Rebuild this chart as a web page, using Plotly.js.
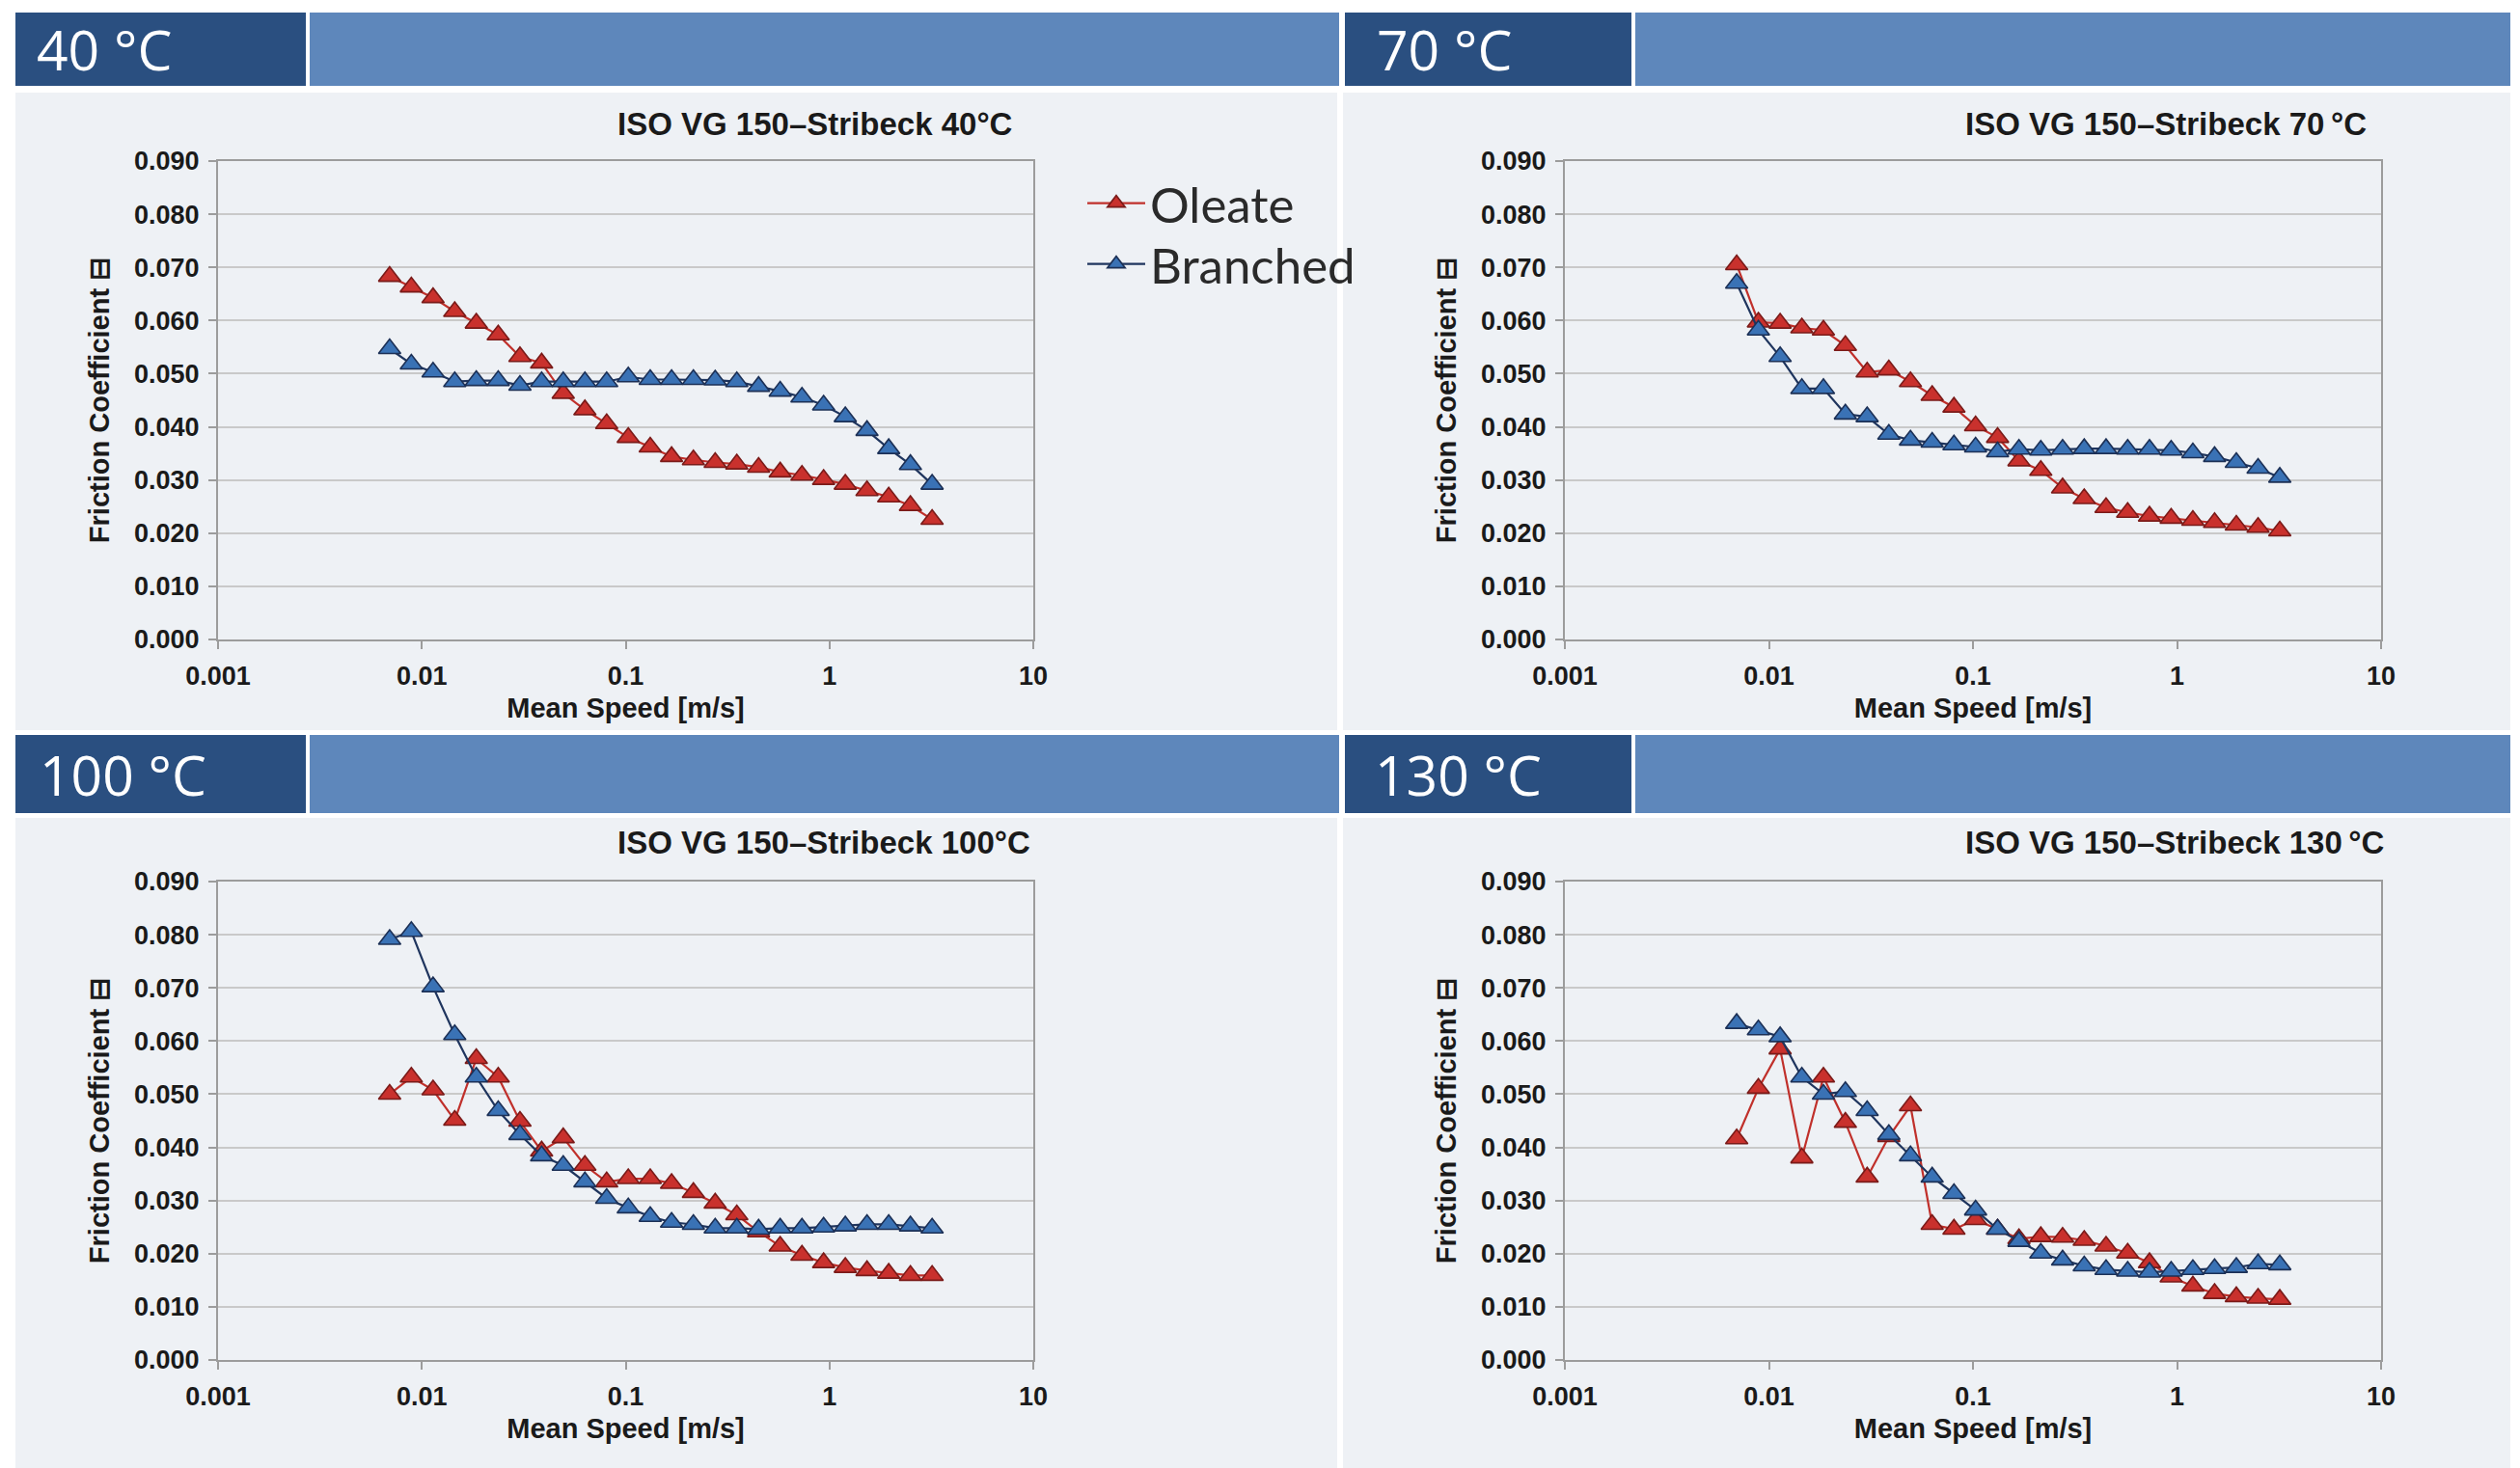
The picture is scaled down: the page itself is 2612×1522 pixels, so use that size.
<!DOCTYPE html>
<html>
<head>
<meta charset="utf-8">
<script src="https://cdn.plot.ly/plotly-3.0.1.min.js"></script>
<style>
html,body{margin:0;padding:0;background:#ffffff;}
#chart{width:2612px;height:1522px;}
</style>
</head>
<body>
<div id="chart"></div>
<script>
// ---------------- data ----------------
const speed = [0.00695, 0.00888, 0.01135, 0.0145, 0.0185, 0.0237, 0.0303, 0.0387, 0.0494, 0.0631, 0.0807, 0.103, 0.132, 0.168, 0.215, 0.275, 0.351, 0.449, 0.573, 0.733, 0.936, 1.196, 1.528, 1.953, 2.496, 3.189];

const oleate40   = [0.0683,0.0663,0.0643,0.0617,0.0595,0.0573,0.0532,0.0520,0.0463,0.0432,0.0406,0.0380,0.0362,0.0344,0.0338,0.0333,0.0330,0.0324,0.0315,0.0309,0.0301,0.0292,0.0280,0.0268,0.0252,0.0226];
const branched40 = [0.0547,0.0518,0.0503,0.0485,0.0487,0.0487,0.0478,0.0485,0.0485,0.0485,0.0485,0.0494,0.0489,0.0489,0.0489,0.0488,0.0485,0.0476,0.0467,0.0456,0.0441,0.0419,0.0393,0.0359,0.0329,0.0292];

const oleate70   = [0.0705,0.0597,0.0595,0.0586,0.0582,0.0553,0.0503,0.0507,0.0485,0.0459,0.0437,0.0402,0.0380,0.0336,0.0318,0.0285,0.0265,0.0248,0.0239,0.0232,0.0228,0.0224,0.0220,0.0215,0.0211,0.0204];
const branched70 = [0.0670,0.0582,0.0532,0.0472,0.0472,0.0424,0.0419,0.0386,0.0375,0.0371,0.0366,0.0362,0.0353,0.0358,0.0356,0.0358,0.0359,0.0359,0.0358,0.0358,0.0356,0.0351,0.0344,0.0333,0.0322,0.0305];

const oleate100   = [0.0500,0.0532,0.0508,0.0451,0.0567,0.0532,0.0449,0.0393,0.0418,0.0366,0.0335,0.0341,0.0341,0.0332,0.0315,0.0295,0.0273,0.0241,0.0214,0.0197,0.0183,0.0174,0.0168,0.0163,0.0159,0.0159];
const branched100 = [0.0791,0.0806,0.0702,0.0612,0.0532,0.0469,0.0424,0.0384,0.0366,0.0335,0.0304,0.0286,0.0270,0.0259,0.0255,0.0248,0.0248,0.0246,0.0248,0.0248,0.0250,0.0252,0.0255,0.0255,0.0252,0.0248];

const oleate130   = [0.0416,0.0511,0.0585,0.0380,0.0532,0.0447,0.0344,0.0420,0.0478,0.0255,0.0246,0.0264,0.0246,0.0228,0.0232,0.0231,0.0225,0.0214,0.0201,0.0183,0.0156,0.0139,0.0125,0.0119,0.0116,0.0114];
const branched130 = [0.0633,0.0621,0.0608,0.0532,0.0500,0.0505,0.0469,0.0424,0.0384,0.0344,0.0313,0.0282,0.0246,0.0223,0.0201,0.0188,0.0177,0.0170,0.0167,0.0165,0.0167,0.0170,0.0172,0.0174,0.0181,0.0179];

const seriesNames = ['Oleate', 'Branched'];
const panelTemps  = ['40 °C', '70 °C', '100 °C', '130 °C'];
const chartTitles = ['ISO VG 150–Stribeck 40°C', 'ISO VG 150–Stribeck 70\u2009°C', 'ISO VG 150–Stribeck 100°C', 'ISO VG 150–Stribeck 130\u2009°C'];
const xTickVals = [0.001, 0.01, 0.1, 1, 10];
const xTickText = ['0.001', '0.01', '0.1', '1', '10'];
const yTickVals = [0, 0.01, 0.02, 0.03, 0.04, 0.05, 0.06, 0.07, 0.08, 0.09];
const yTickText = ['0.000', '0.010', '0.020', '0.030', '0.040', '0.050', '0.060', '0.070', '0.080', '0.090'];
const xTitle = 'Mean Speed [m/s]';
const yTitle = 'Friction Coefficient \u229F';

// ---------------- layout helpers ----------------
const W = 2612, H = 1522;
const px = x => x / W;
const py = y => 1 - y / H;

const panelData = [
  [oleate40, branched40],
  [oleate70, branched70],
  [oleate100, branched100],
  [oleate130, branched130]
];

// plot-area boxes in pixels [left, right, top, bottom]
const boxes = [
  [226, 1071, 167, 663],
  [1622, 2468, 167, 663],
  [226, 1071, 914, 1410],
  [1622, 2468, 914, 1410]
];

const red = {line: '#c0302b', fill: '#c9312d', edge: '#7a1b19'};
const blue = {line: '#1f355e', fill: '#3a72b5', edge: '#1c3056'};
const styles = [red, blue];
const legendIds = ['legend', 'legend2'];

const traces = [];
panelData.forEach((pair, i) => {
  const ax = i === 0 ? '' : String(i + 1);
  pair.forEach((vals, s) => {
    const st = styles[s];
    traces.push({
      type: 'scatter',
      mode: 'lines+markers',
      x: speed,
      y: vals,
      name: seriesNames[s],
      showlegend: i === 0,
      legend: legendIds[s],
      legendgroup: seriesNames[s],
      xaxis: 'x' + ax,
      yaxis: 'y' + ax,
      line: {color: st.line, width: 2.2},
      marker: {symbol: 'triangle-up', size: 20, color: st.fill, line: {color: st.edge, width: 1.6}},
      cliponaxis: false
    });
  });
});

const tickFont = {family: 'Liberation Sans, Arial, sans-serif', size: 27, color: '#1a1a1a', weight: 'bold'};
const titleFont = {family: 'Liberation Sans, Arial, sans-serif', size: 29, color: '#1a1a1a', weight: 'bold'};
const legendFont = {family: 'Lato, Open Sans, sans-serif', size: 51, color: '#2a2a2a'};

const makeLegend = yc => ({
  x: px(1122), y: py(yc), xanchor: 'left', yanchor: 'middle',
  bgcolor: 'rgba(0,0,0,0)',
  font: legendFont,
  itemwidth: 60,
  tracegroupgap: 0
});

const layout = {
  width: W, height: H,
  margin: {l: 0, r: 0, t: 0, b: 0, pad: 0},
  paper_bgcolor: '#ffffff',
  plot_bgcolor: '#ffffff',
  showlegend: true,
  legend: makeLegend(211),
  legend2: makeLegend(274),
  shapes: [],
  annotations: []
};

boxes.forEach((b, i) => {
  const ax = i === 0 ? '' : String(i + 1);
  layout['xaxis' + ax] = {
    type: 'log', range: [-3, 1],
    domain: [px(b[0]), px(b[1])],
    anchor: 'y' + ax,
    tickvals: xTickVals, ticktext: xTickText,
    showgrid: false, zeroline: false,
    showline: true, mirror: true, linecolor: '#9c9c9c', linewidth: 2,
    ticks: 'outside', ticklen: 8, tickwidth: 2, tickcolor: '#9c9c9c',
    ticklabelstandoff: 5,
    tickfont: tickFont,
    title: {text: xTitle, font: titleFont, standoff: 8},
    fixedrange: true
  };
  layout['yaxis' + ax] = {
    range: [0, 0.09],
    domain: [py(b[3]), py(b[2])],
    anchor: 'x' + ax,
    tickvals: yTickVals, ticktext: yTickText,
    showgrid: true, gridcolor: '#c9c9c9', gridwidth: 2,
    zeroline: false,
    showline: true, mirror: true, linecolor: '#9c9c9c', linewidth: 2,
    ticks: 'outside', ticklen: 8, tickwidth: 2, tickcolor: '#9c9c9c',
    ticklabelstandoff: 4,
    tickfont: tickFont,
    title: {text: yTitle, font: titleFont, standoff: 17},
    fixedrange: true
  };
});

// panel backgrounds and header bars
const panelBg = '#eef1f5';
const dark = '#2a4f80';
const light = '#5e87bb';
const panels = [
  {bg: [16, 96, 1386, 757], dk: [16, 13, 317, 89], lt: [321, 13, 1388, 89], tx: 36, ty: 51, title: [638, 128]},
  {bg: [1392, 96, 2602, 757], dk: [1394, 13, 1691, 89], lt: [1695, 13, 2602, 89], tx: 1425, ty: 51, title: [2035, 128]},
  {bg: [16, 848, 1386, 1522], dk: [16, 762, 317, 843], lt: [321, 762, 1388, 843], tx: 39, ty: 803, title: [638, 873]},
  {bg: [1392, 848, 2602, 1522], dk: [1394, 762, 1691, 843], lt: [1695, 762, 2602, 843], tx: 1423, ty: 803, title: [2035, 873]}
];
const rect = (r, color) => ({
  type: 'rect', xref: 'paper', yref: 'paper', layer: 'below',
  x0: px(r[0]), x1: px(r[2]), y0: py(r[3]), y1: py(r[1]),
  fillcolor: color, line: {width: 0}
});
panels.forEach((p, i) => {
  layout.shapes.push(rect(p.bg, panelBg));
  layout.shapes.push(rect(p.dk, dark));
  layout.shapes.push(rect(p.lt, light));
  layout.annotations.push({
    xref: 'paper', yref: 'paper', x: px(p.tx), y: py(p.ty),
    xanchor: 'left', yanchor: 'middle', showarrow: false,
    text: panelTemps[i],
    font: {family: 'Open Sans, sans-serif', size: 57, color: '#ffffff'}
  });
  layout.annotations.push({
    xref: 'paper', yref: 'paper', x: px(p.title[0]), y: py(p.title[1]),
    xanchor: 'left', yanchor: 'middle', showarrow: false,
    text: chartTitles[i],
    font: {family: 'Liberation Sans, Arial, sans-serif', size: 33, color: '#1a1a1a', weight: 'bold'}
  });
});

Plotly.newPlot('chart', traces, layout, {staticPlot: true, displayModeBar: false});
</script>
</body>
</html>
